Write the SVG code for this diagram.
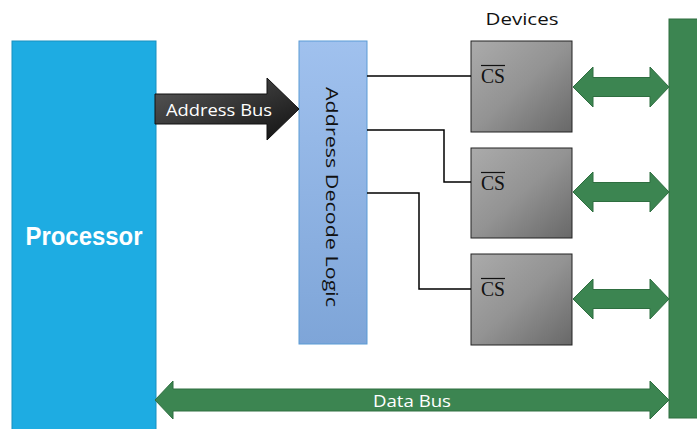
<svg xmlns="http://www.w3.org/2000/svg" width="697" height="429" viewBox="0 0 697 429">
  <defs>
    <linearGradient id="devFill" x1="0" y1="0" x2="1" y2="1">
      <stop offset="0" stop-color="#ababab"/>
      <stop offset="0.5" stop-color="#939393"/>
      <stop offset="1" stop-color="#686868"/>
    </linearGradient>
    <linearGradient id="decFill" x1="0" y1="0" x2="0" y2="1">
      <stop offset="0" stop-color="#a0c1ee"/>
      <stop offset="1" stop-color="#7ea5d8"/>
    </linearGradient>
    <linearGradient id="addrFill" x1="0" y1="0" x2="1" y2="1">
      <stop offset="0" stop-color="#5a5a5a"/>
      <stop offset="1" stop-color="#111111"/>
    </linearGradient>
    <style>
      .dev { fill: url(#devFill); stroke: #222; stroke-width: 1; }
      .bus { fill: #3c8551; stroke: #2e6e40; stroke-width: 1; }
      .wire { fill: none; stroke: #000; stroke-width: 1.5; }
      .cs { font-family: "Liberation Serif", serif; font-size: 20px; fill: #111; }
      .lbl { font-family: "Open Sans", "Liberation Sans", sans-serif; font-size: 17px; }
    </style>
  </defs>

  <g id="processor">
    <rect x="12" y="41" width="144" height="392" fill="#1eace2" stroke="#1790c0" stroke-width="1"/>
    <text x="84" y="245" text-anchor="middle" font-family="Liberation Sans, sans-serif" font-weight="bold" font-size="25" fill="#fff" textLength="117" lengthAdjust="spacingAndGlyphs">Processor</text>
  </g>

  <g id="address-decode">
    <rect x="299" y="41" width="68" height="303" fill="url(#decFill)" stroke="#5b9bd5" stroke-width="1"/>
    <text class="lbl" transform="translate(326,197) rotate(90)" text-anchor="middle" fill="#111" font-size="21" textLength="220" lengthAdjust="spacingAndGlyphs">Address Decode Logic</text>
  </g>

  <g id="devices-label">
    <text class="lbl" x="522" y="25" text-anchor="middle" fill="#111" font-size="18" textLength="73" lengthAdjust="spacingAndGlyphs">Devices</text>
  </g>

  <g id="device-1">
    <rect class="dev" x="471" y="41" width="101" height="91"/>
    <text class="cs" x="481" y="83" textLength="24" lengthAdjust="spacingAndGlyphs">CS</text>
    <line x1="481" y1="65.5" x2="505" y2="65.5" stroke="#111" stroke-width="1.2"/>
  </g>
  <g id="device-2">
    <rect class="dev" x="471" y="148" width="101" height="90"/>
    <text class="cs" x="481" y="190" textLength="24" lengthAdjust="spacingAndGlyphs">CS</text>
    <line x1="481" y1="172.5" x2="505" y2="172.5" stroke="#111" stroke-width="1.2"/>
  </g>
  <g id="device-3">
    <rect class="dev" x="471" y="254" width="101" height="91"/>
    <text class="cs" x="481" y="296" textLength="24" lengthAdjust="spacingAndGlyphs">CS</text>
    <line x1="481" y1="278.5" x2="505" y2="278.5" stroke="#111" stroke-width="1.2"/>
  </g>

  <g id="system-bus">
    <rect x="669" y="19" width="40" height="399" fill="#3c8551" stroke="#2e6e40" stroke-width="1"/>
  </g>

  <g id="connectors">
    <!-- chip-select wires from the decoder -->
    <polyline class="wire" points="367,76 471,76"/>
    <polyline class="wire" points="367,130 444,130 444,182 471,182"/>
    <polyline class="wire" points="367,193 419,193 419,289 471,289"/>

    <!-- address bus arrow -->
    <path d="M155,94 H267 V78 L299,109 L267,140 V124 H155 Z" fill="url(#addrFill)" stroke="#111" stroke-width="1"/>
    <text class="lbl" x="166" y="116" fill="#fff" font-size="18" textLength="106" lengthAdjust="spacingAndGlyphs">Address Bus</text>

    <!-- device data arrows -->
    <path class="bus" d="M573,87 L593,67 V77.5 H650 V67 L669,87 L650,107 V96.5 H593 V107 Z"/>
    <path class="bus" d="M573,192 L593,172 V182.5 H650 V172 L669,192 L650,212 V201.5 H593 V212 Z"/>
    <path class="bus" d="M573,299 L593,279 V289.5 H650 V279 L669,299 L650,319 V308.5 H593 V319 Z"/>

    <!-- data bus arrow -->
    <path class="bus" d="M155,400 L173,381 V389 H650 V381 L669,400 L650,419 V411 H173 V419 Z"/>
    <text class="lbl" x="412" y="407" text-anchor="middle" fill="#fff" font-size="18" textLength="78" lengthAdjust="spacingAndGlyphs">Data Bus</text>
  </g>
</svg>
